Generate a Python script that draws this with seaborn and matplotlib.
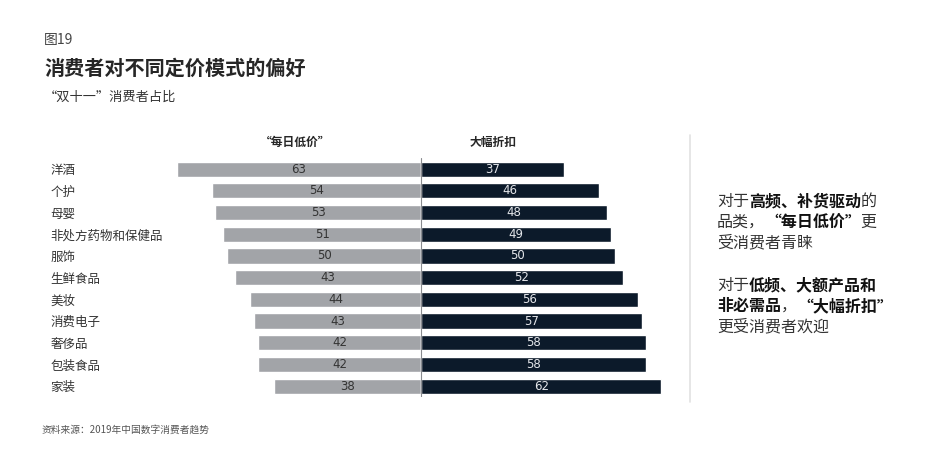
import pandas as pd
import matplotlib
matplotlib.use("Agg")
import matplotlib.pyplot as plt
import seaborn as sns

# data
categories = ['洋酒', '个护', '母婴', '非处方药物和保健品', '服饰', '生鲜食品',
              '美妆', '消费电子', '奢侈品', '包装食品', '家装']
low_price = [63, 54, 53, 51, 50, 48, 44, 43, 42, 42, 38]       # bar lengths as drawn
low_price_labels = ['63', '54', '53', '51', '50', '43', '44', '43', '42', '42', '38']
discount = [37, 46, 48, 49, 50, 52, 56, 57, 58, 58, 62]

GRAY = '#a2a4a8'
NAVY = '#0c1a2a'
W, H = 940, 466

sns.set_style('white')
plt.rcParams['font.family'] = ['Noto Sans CJK SC', 'DejaVu Sans']

df = pd.DataFrame({'cat': categories, 'low': [-v for v in low_price], 'disc': discount})

fig = plt.figure(figsize=(W / 100, H / 100), dpi=100)
ax = fig.add_axes([160 / W, 1 - 397 / H, 520 / W, 238.7 / H])

sns.barplot(data=df, x='low', y='cat', color=GRAY, width=0.7, saturation=1, ax=ax)
sns.barplot(data=df, x='disc', y='cat', color=NAVY, width=0.7, saturation=1, ax=ax)

ax.set_xlim(-67.3, 66.8)
ax.set_ylim(10.5, -0.5)
ax.axvline(0, color='#8a8c90', lw=0.8)
ax.set_xlabel('')
ax.set_ylabel('')
ax.set_xticks([])
sns.despine(ax=ax, left=True, bottom=True)
ax.tick_params(axis='y', length=0, pad=79, labelsize=9, labelcolor='#333333')
for lab in ax.get_yticklabels():
    lab.set_ha('left')

# value labels centred in each bar
for i in range(len(categories)):
    ax.text(-low_price[i] / 2, i, low_price_labels[i], ha='center', va='center',
            fontsize=8.5, color='#333333', family='DejaVu Sans')
    ax.text(discount[i] / 2, i, str(discount[i]), ha='center', va='center',
            fontsize=8.5, color='#e4e6ea', family='DejaVu Sans')

# column headers
ax.text(-63 / 2 - 1, -1.25, '“每日低价”', ha='center', va='center', fontsize=8.5, fontweight='bold')
ax.text(37 / 2, -1.25, '大幅折扣', ha='center', va='center', fontsize=8.5, fontweight='bold')

# titles
fig.text(44 / W, 1 - 40 / H, '图19', fontsize=10, color='#444444', va='center')
fig.text(44 / W, 1 - 68 / H, '消费者对不同定价模式的偏好', fontsize=14.5, fontweight='bold', va='center')
fig.text(44 / W, 1 - 97 / H, '“双十一”消费者占比', fontsize=9.5, color='#333333', va='center')
fig.text(42 / W, 1 - 430 / H, '资料来源：2019年中国数字消费者趋势', fontsize=7, color='#555555', va='center')

# divider on the right
fig.add_artist(plt.Line2D([690 / W, 690 / W], [1 - 135 / H, 1 - 402 / H], color='#e2e2e2', lw=1.2))

renderer = fig.canvas.get_renderer()


def rich_line(x_px, y_px, parts, size=11.5):
    for s, bold in parts:
        t = fig.text(x_px / W, 1 - y_px / H, s, fontsize=size, va='center',
                     fontweight='bold' if bold else 'normal',
                     color='#111111' if bold else '#333333')
        x_px += t.get_window_extent(renderer).width


rich_line(717, 201, [('对于', False), ('高频、补货驱动', True), ('的', False)])
rich_line(717, 222, [('品类，', False), ('“每日低价”', True), ('更', False)])
rich_line(717, 243, [('受消费者青睐', False)])
rich_line(717, 285, [('对于', False), ('低频、大额产品和', True)])
rich_line(717, 306, [('非必需品', True), ('，', False), ('“大幅折扣”', True)])
rich_line(717, 327, [('更受消费者欢迎', False)])

fig.savefig('out.png', dpi=100)
